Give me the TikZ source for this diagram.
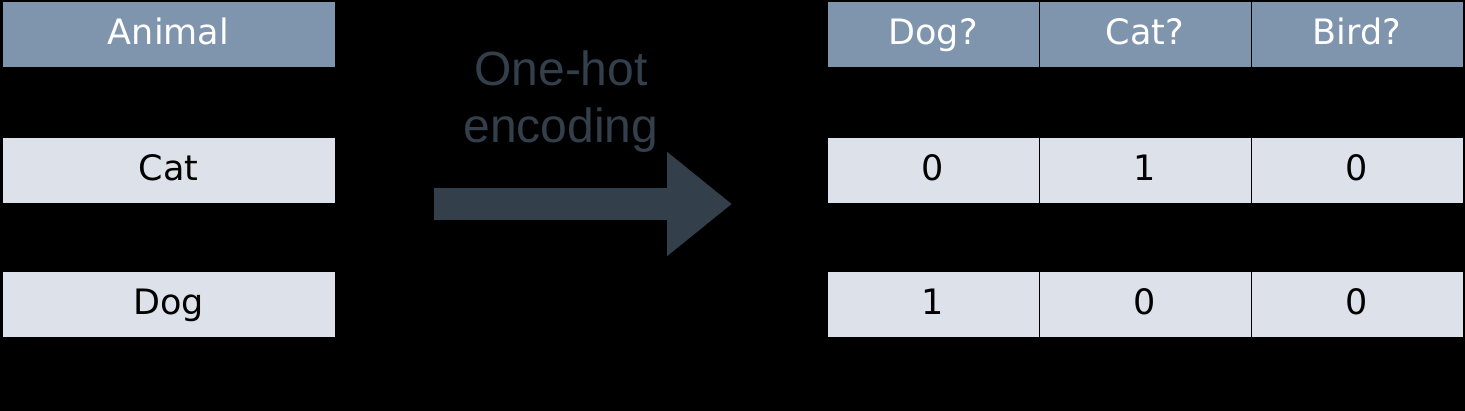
\documentclass[tikz,border=0pt]{standalone}
\usepackage{fontspec}
\setmainfont{DejaVu Sans}
\newfontfamily\flechafont{Liberation Sans}
\usetikzlibrary{positioning,arrows.meta}
\definecolor{cabecera}{RGB}{127,148,173}
\definecolor{celda}{RGB}{221,225,233}
\definecolor{pizarra}{RGB}{51,63,75}

\begin{document}
\begin{tikzpicture}[x=1pt, y=-1pt,
  base/.style={rectangle, draw=black, line width=1pt, inner sep=0pt, outer sep=0pt,
    minimum height=66pt, text height=28pt, text depth=8pt,
    font=\fontsize{35}{40}\selectfont},
  encab/.style={base, fill=cabecera, text=white},
  fila/.style={base, fill=celda, text=black},
  ancha/.style={minimum width=333pt},
  angosta/.style={minimum width=212pt},
  flecha/.style={-{Triangle[length=65pt, width=100pt]}, line width=32pt, color=pizarra},
  node distance=0pt
]
\fill[black] (0,0) rectangle (1465,411);
\useasboundingbox (0,0) rectangle (1465,411);
% tabla original
\node[encab, ancha] (animal) at (168.5,35) {Animal};
\node[fila, ancha, below=70pt of animal] (gato) {Cat};
\node[fila, ancha, below=68pt of gato] (perro) {Dog};
% tabla codificada
\node[encab, angosta] (cperro) at (933,35) {Dog?};
\node[encab, angosta, right=of cperro] (cgato) {Cat?};
\node[encab, angosta, right=of cgato] (cave) {Bird?};
\node[fila, angosta, below=70pt of cperro] (g1) {0};
\node[fila, angosta, right=of g1] (g2) {1};
\node[fila, angosta, right=of g2] (g3) {0};
\node[fila, angosta, below=68pt of g1] (p1) {1};
\node[fila, angosta, right=of p1] (p2) {0};
\node[fila, angosta, right=of p2] (p3) {0};
% flecha
\coordinate (ini) at (434,204);
\coordinate (fin) at (732,204);
\draw[flecha] (ini) -- (fin);
\node[inner sep=0pt, align=center, text=pizarra,
  font=\flechafont\fontsize{48}{57}\selectfont] (etiqueta) at (561,102) {One-hot\\encoding};
\end{tikzpicture}
\end{document}
